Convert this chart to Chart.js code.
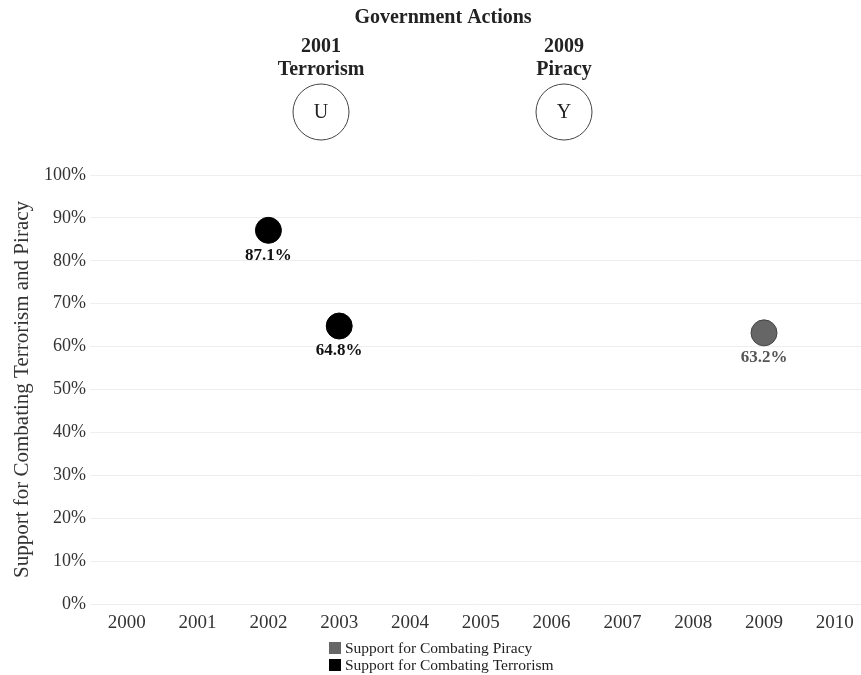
<!DOCTYPE html>
<html>
<head>
<meta charset="utf-8">
<script src="https://cdn.jsdelivr.net/npm/chart.js@4"></script>
<style>
  html, body { margin: 0; padding: 0; background: #fff; }
  #chart { display: block; }
</style>
</head>
<body>
<canvas id="chart" width="861" height="675"></canvas>
<script>
// data
const piracyYears = [2009];
const piracyValues = [63.2];
const terrorismYears = [2002, 2003];
const terrorismValues = [87.1, 64.8];
const yearTicks = [2000, 2001, 2002, 2003, 2004, 2005, 2006, 2007, 2008, 2009, 2010];
const actionYears = ['2001', '2009'];
const actionNames = ['Terrorism', 'Piracy'];
const actionSymbols = ['U', 'Y'];

const SERIF = '"Liberation Serif", "Times New Roman", serif';

const toPoints = (xs, ys) => xs.map((x, i) => ({ x: x, y: ys[i] }));

// header, value labels and legend drawn by hand
const extras = {
  id: 'extras',
  afterDraw(chart) {
    const ctx = chart.ctx;
    ctx.save();
    ctx.textAlign = 'center';
    ctx.textBaseline = 'middle';

    // Government Actions header
    ctx.fillStyle = '#222';
    ctx.font = 'bold 20px ' + SERIF;
    ctx.fillText('Government Actions', 443, 18);
    const cx = [321, 564];
    actionYears.forEach((yr, i) => {
      ctx.fillStyle = '#222';
      ctx.font = 'bold 20px ' + SERIF;
      ctx.fillText(yr, cx[i], 47);
      ctx.fillText(actionNames[i], cx[i], 70);
      ctx.beginPath();
      ctx.arc(cx[i], 112, 28, 0, Math.PI * 2);
      ctx.strokeStyle = '#444';
      ctx.lineWidth = 1;
      ctx.stroke();
      ctx.font = '20px ' + SERIF;
      ctx.fillText(actionSymbols[i], cx[i], 113);
    });

    // value labels under the points
    const labelColors = ['#555', '#111'];
    chart.data.datasets.forEach((ds, di) => {
      const meta = chart.getDatasetMeta(di);
      ctx.fillStyle = labelColors[di];
      ctx.font = 'bold 17px ' + SERIF;
      meta.data.forEach((pt, i) => {
        ctx.fillText(ds.data[i].y.toFixed(1) + '%', pt.x, pt.y + 25);
      });
    });

    // legend, one row per series
    ctx.textAlign = 'left';
    ctx.font = '15.5px ' + SERIF;
    chart.data.datasets.forEach((ds, di) => {
      const y = 648 + di * 17;
      ctx.fillStyle = ds.backgroundColor;
      ctx.fillRect(329, y - 6, 12, 12);
      ctx.fillStyle = '#222';
      ctx.fillText(ds.label, 345, y + 1);
    });
    ctx.restore();
  }
};

new Chart(document.getElementById('chart'), {
  type: 'scatter',
  data: {
    datasets: [
      {
        label: 'Support for Combating Piracy',
        data: toPoints(piracyYears, piracyValues),
        backgroundColor: '#666666',
        borderColor: '#444444',
        borderWidth: 1,
        pointRadius: 13,
        pointHoverRadius: 13
      },
      {
        label: 'Support for Combating Terrorism',
        data: toPoints(terrorismYears, terrorismValues),
        backgroundColor: '#000000',
        borderColor: '#000000',
        borderWidth: 1,
        pointRadius: 13,
        pointHoverRadius: 13
      }
    ]
  },
  options: {
    responsive: false,
    animation: false,
    layout: { autoPadding: false, padding: { top: 175, right: 0, bottom: 45, left: 0 } },
    plugins: {
      legend: { display: false },
      tooltip: { enabled: false }
    },
    scales: {
      x: {
        type: 'linear',
        min: 1999.48,
        max: 2010.37,
        afterFit: (s) => { s.height = 26; s.paddingRight = 0; s.paddingLeft = 0; },
        afterBuildTicks: (s) => { s.ticks = yearTicks.map(v => ({ value: v })); },
        grid: { display: false, drawTicks: false },
        border: { display: false },
        ticks: {
          padding: 8,
          color: '#333',
          font: { family: SERIF, size: 19 },
          callback: (v) => String(v)
        }
      },
      y: {
        min: 0,
        max: 100,
        afterFit: (s) => { s.width = 90; },
        grid: { color: '#eeeeee', drawTicks: false },
        border: { display: false },
        ticks: {
          stepSize: 10,
          padding: 4,
          color: '#333',
          font: { family: SERIF, size: 18 },
          callback: (v) => v + '%'
        },
        title: {
          display: true,
          text: 'Support for Combating Terrorism and Piracy',
          color: '#333',
          padding: { top: 10, bottom: 0 },
          font: { family: SERIF, size: 21 }
        }
      }
    }
  },
  plugins: [extras]
});
</script>
</body>
</html>
